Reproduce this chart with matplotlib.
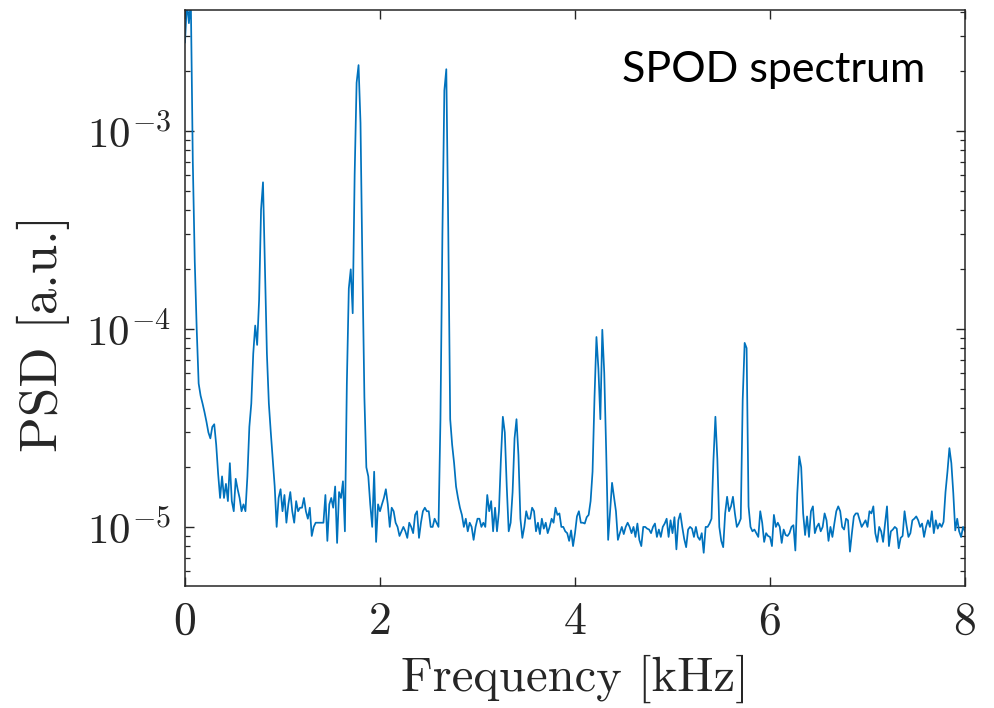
import numpy as np
import matplotlib
matplotlib.use("Agg")
import matplotlib.pyplot as plt
from matplotlib.ticker import LogLocator, NullFormatter, FixedLocator

# ---- data ----
freq_step_khz = 0.02
# PSD values in units of 1e-5 [a.u.], one row per 0.2 kHz (f = 0.00 ... 8.00 kHz)
psd_e5 = [
    280, 450, 350, 450, 70, 22, 10, 5.3, 4.6, 4.2,            # 0.0
    3.8, 3.4, 3.0, 2.8, 3.2, 3.3, 2.6, 1.85, 1.4, 1.8,        # 0.2
    1.4, 1.65, 1.35, 2.1, 1.35, 1.2, 1.75, 1.55, 1.4, 1.2,    # 0.4
    1.3, 1.2, 1.8, 3.2, 4.2, 7.5, 10.4, 8.3, 14, 40,          # 0.6
    55, 20, 7.5, 4.2, 3.0, 2.2, 1.6, 1.0, 1.4, 1.55,          # 0.8
    1.2, 1.45, 1.05, 1.3, 1.5, 1.2, 1.05, 1.35, 1.2, 1.25,    # 1.0
    1.25, 1.4, 1.2, 1.1, 1.25, 0.9, 1.0, 1.05, 1.05, 1.05,    # 1.2
    1.05, 1.05, 1.45, 0.85, 1.3, 1.4, 1.25, 1.6, 0.83, 1.5,   # 1.4
    1.4, 1.7, 0.95, 5.3, 16, 20, 12, 60, 175, 215,            # 1.6
    110, 20, 4.5, 2.0, 1.8, 1.3, 1.0, 1.9, 0.84, 1.3,         # 1.8
    1.2, 1.3, 1.4, 1.55, 1.3, 1.0, 1.25, 1.2, 1.05, 1.0,      # 2.0
    0.9, 0.95, 1.0, 0.95, 0.88, 1.05, 1.0, 0.93, 1.15, 1.2,   # 2.2
    0.88, 1.05, 1.2, 1.25, 1.2, 1.2, 1.0, 1.0, 1.1, 1.05,     # 2.4
    1.0, 3.5, 30, 160, 205, 32, 3.5, 2.6, 2.1, 1.6,           # 2.6
    1.4, 1.25, 1.15, 1.0, 1.1, 0.95, 1.05, 1.0, 0.86, 1.0,    # 2.8
    1.1, 1.1, 1.0, 1.05, 1.0, 1.45, 1.2, 1.35, 0.95, 1.25,    # 3.0
    0.95, 1.2, 2.2, 3.6, 3.0, 1.6, 0.95, 1.05, 1.5, 2.8,      # 3.2
    3.5, 2.3, 1.1, 0.88, 1.0, 1.2, 1.1, 1.1, 1.25, 1.2,       # 3.4
    0.95, 1.05, 0.92, 1.1, 0.98, 1.05, 0.93, 1.0, 1.1, 1.05,  # 3.6
    1.25, 1.15, 1.17, 1.0, 1.0, 0.95, 0.93, 0.85, 0.96, 0.8,  # 3.8
    0.93, 1.13, 1.2, 1.05, 1.05, 1.04, 1.12, 1.15, 1.35, 1.9, # 4.0
    4.5, 9.1, 6.3, 3.5, 9.9, 6.0, 2.4, 0.86, 1.2, 1.67,       # 4.2
    1.42, 1.2, 0.86, 0.93, 1.0, 0.92, 1.0, 1.05, 1.0, 0.93,   # 4.4
    1.0, 0.89, 1.04, 0.86, 0.8, 1.0, 1.0, 0.98, 0.97, 0.93,   # 4.6
    1.0, 1.04, 0.89, 0.97, 0.89, 1.0, 1.04, 1.1, 0.89, 1.08,  # 4.8
    0.93, 1.12, 0.77, 1.08, 1.17, 1.0, 0.87, 0.79, 0.97, 1.0, # 5.0
    0.98, 0.89, 1.0, 0.89, 0.86, 0.93, 0.74, 1.0, 1.0, 1.04,  # 5.2
    1.1, 2.18, 3.6, 2.2, 1.0, 0.85, 0.79, 1.17, 1.42, 1.2,    # 5.4
    1.27, 1.42, 1.17, 1.0, 1.04, 1.1, 4.4, 8.5, 8.0, 1.27,    # 5.6
    1.0, 0.95, 0.97, 0.93, 0.89, 1.2, 1.05, 0.84, 0.93, 0.9,  # 5.8
    0.89, 0.8, 1.15, 1.0, 1.05, 1.0, 0.83, 0.97, 0.91, 0.9,   # 6.0
    0.93, 1.0, 1.02, 0.76, 1.48, 2.27, 2.0, 1.17, 0.91, 1.13, # 6.2
    0.89, 1.2, 1.27, 0.93, 1.0, 1.04, 0.95, 1.0, 1.17, 1.08,  # 6.4
    0.85, 1.0, 0.89, 1.04, 1.2, 1.27, 1.2, 1.0, 0.97, 1.1,    # 6.6
    1.08, 0.75, 0.93, 1.13, 1.17, 1.17, 1.08, 1.0, 1.04, 1.08,# 6.8
    1.0, 1.2, 1.17, 1.27, 0.93, 0.84, 1.0, 0.95, 0.84, 1.04,  # 7.0
    1.27, 0.8, 0.95, 0.97, 1.0, 0.98, 0.78, 0.88, 0.9, 1.2,   # 7.2
    1.02, 0.89, 0.93, 1.08, 1.1, 1.13, 1.08, 1.0, 1.04, 0.89, # 7.4
    1.0, 1.08, 1.0, 1.2, 0.93, 1.08, 0.98, 1.04, 1.0, 1.06,   # 7.6
    1.5, 1.9, 2.5, 2.1, 1.48, 0.96, 1.1, 0.95, 0.89, 1.0,     # 7.8
    0.95,                                                     # 8.0
]
x_ticks = [0, 2, 4, 6, 8]
x_label = "Frequency [kHz]"
y_label = "PSD [a.u.]"
annotation = "SPOD spectrum"

freq = np.arange(len(psd_e5)) * freq_step_khz
psd = np.array(psd_e5) * 1e-5

# ---- style ----
plt.rcParams["mathtext.fontset"] = "cm"
plt.rcParams["font.family"] = ["cmr10", "DejaVu Serif"]
plt.rcParams["axes.formatter.use_mathtext"] = True

W, H = 995, 708
fig = plt.figure(figsize=(W / 100, H / 100), dpi=100)
ax = fig.add_axes([185 / W, 1 - 586 / H, (965 - 185) / W, (586 - 10) / H])

ax.plot(freq, psd, color="#0072BD", lw=1.25)
ax.set_yscale("log")
ax.set_xlim(0, 8)
ax.set_ylim(5.03e-6, 4.08e-3)

ax.xaxis.set_major_locator(FixedLocator(x_ticks))
ax.set_xticklabels([str(t) for t in x_ticks])
ax.yaxis.set_major_locator(LogLocator(base=10, numticks=10))
ax.yaxis.set_minor_locator(LogLocator(base=10, subs=np.arange(2, 10), numticks=20))
ax.yaxis.set_minor_formatter(NullFormatter())

edge = "#262626"
for s in ax.spines.values():
    s.set_linewidth(1.1)
    s.set_color(edge)
ax.tick_params(which="both", direction="in", top=True, right=True, colors=edge,
               labelcolor="#262626")
ax.tick_params(which="major", length=6.5, width=1.0)
ax.tick_params(axis="y", which="major", labelsize=31, pad=10)
ax.tick_params(axis="x", which="major", labelsize=33, pad=11)
ax.tick_params(which="minor", length=3.5, width=0.9)
ax.tick_params(axis="x", which="minor", bottom=False, top=False)

ax.set_xlabel(x_label, fontsize=35, color="#262626")
ax.set_ylabel(y_label, fontsize=38, color="#262626")
ax.xaxis.set_label_coords(0.5, (586 - 655) / 576)
ax.yaxis.set_label_coords((70 - 185) / 780, (586 - 333) / 576)

fig.text(622 / W, 1 - 82 / H, annotation, fontsize=31, family="Lato",
         ha="left", va="baseline", color="black")

fig.savefig("out.png", dpi=100)
